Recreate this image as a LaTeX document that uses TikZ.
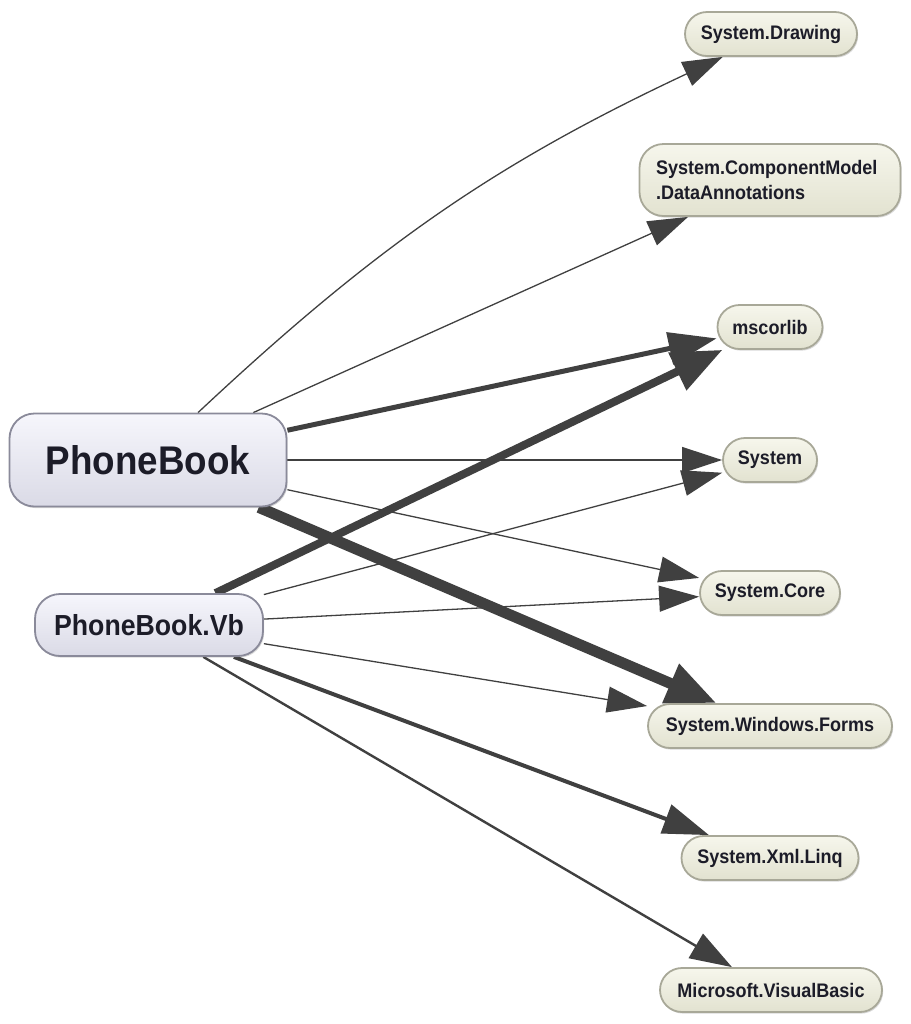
\documentclass[tikz,border=0pt]{standalone}
\usepackage{fontspec}
\setmainfont{Liberation Sans}[FakeStretch=0.92]
\usetikzlibrary{arrows.meta,backgrounds,shadows}
\definecolor{edgec}{HTML}{404040}
\definecolor{txt}{HTML}{1C1C28}
\definecolor{tgtTop}{HTML}{F6F6EC}
\definecolor{tgtBot}{HTML}{E2E2D0}
\definecolor{tgtBorder}{HTML}{A8A898}
\definecolor{srcTop}{HTML}{F6F6FC}
\definecolor{srcBot}{HTML}{DADAE6}
\definecolor{srcBorder}{HTML}{8A8A9A}
\tikzset{
  tgt/.style={draw=tgtBorder, line width=0.9pt, top color=tgtTop, bottom color=tgtBot,
    rounded corners=11pt, minimum height=22pt, inner sep=0pt, text=txt,
    font=\bfseries\fontsize{9.8}{12}\selectfont,
    drop shadow={shadow xshift=0.6pt, shadow yshift=-0.8pt, opacity=0.25, fill=black!60}},
  src/.style={draw=srcBorder, line width=0.9pt, top color=srcTop, bottom color=srcBot,
    rounded corners=12.5pt, inner sep=0pt, text=txt,
    drop shadow={shadow xshift=0.6pt, shadow yshift=-0.8pt, opacity=0.25, fill=black!60}},
  dep/.style={draw=edgec, line width=0.65pt, -{Triangle[length=20pt,width=13pt]}, color=edgec},
}
\begin{document}
\begin{tikzpicture}[x=0.5pt,y=-0.5pt]
\useasboundingbox (0,0) rectangle (911,1024);
% sources
\node[src, minimum width=138.5pt, minimum height=46.5pt, font=\bfseries\fontsize{20}{24}\selectfont] (pb) at (148,460) {PhoneBook};
\node[src, minimum width=114pt, minimum height=31pt, font=\bfseries\fontsize{14.5}{17}\selectfont] (vb) at (149,625) {PhoneBook.Vb};
% targets
\node[tgt, minimum width=86pt] (draw) at (771,34) {System.Drawing};
\node[tgt, minimum width=130.5pt, minimum height=36pt, rounded corners=12pt, align=left, text width=114pt, font=\bfseries\fontsize{9.8}{12.5}\selectfont] (da) at (770,180) {System.ComponentModel\\.DataAnnotations};
\node[tgt, minimum width=52.5pt] (ms) at (770,327) {mscorlib};
\node[tgt, minimum width=47pt] (sys) at (770,460) {System};
\node[tgt, minimum width=70pt] (core) at (770,593) {System.Core};
\node[tgt, minimum width=122pt] (wf) at (770,726) {System.Windows.Forms};
\node[tgt, minimum width=88.5pt] (xml) at (770,858) {System.Xml.Linq};
\node[tgt, minimum width=111pt] (vbas) at (771,990) {Microsoft.VisualBasic};
% dependencies
\begin{scope}[on background layer]
\draw[dep] (pb) to[bend left=9] (draw);
\draw[dep] (pb) -- (da);
\draw[dep, line width=2.5pt, -{Triangle[length=24pt,width=16pt]}] (pb) -- (ms);
\draw[dep] (pb) -- (sys);
\draw[dep] (pb) -- (core);
\draw[dep, line width=5.5pt, -{Triangle[length=25pt,width=20pt]}] (pb) -- (wf);
\draw[dep, line width=4pt, -{Triangle[length=25pt,width=20pt]}] (vb) -- (ms);
\draw[dep] (vb) -- (sys);
\draw[dep] (vb) -- (core);
\draw[dep] (vb) -- (wf);
\draw[dep, line width=2pt, -{Triangle[length=23pt,width=15pt]}] (vb) -- (xml);
\draw[dep, line width=1.2pt, -{Triangle[length=21pt,width=14pt]}] (vb) -- (vbas);
\end{scope}
\end{tikzpicture}
\end{document}
